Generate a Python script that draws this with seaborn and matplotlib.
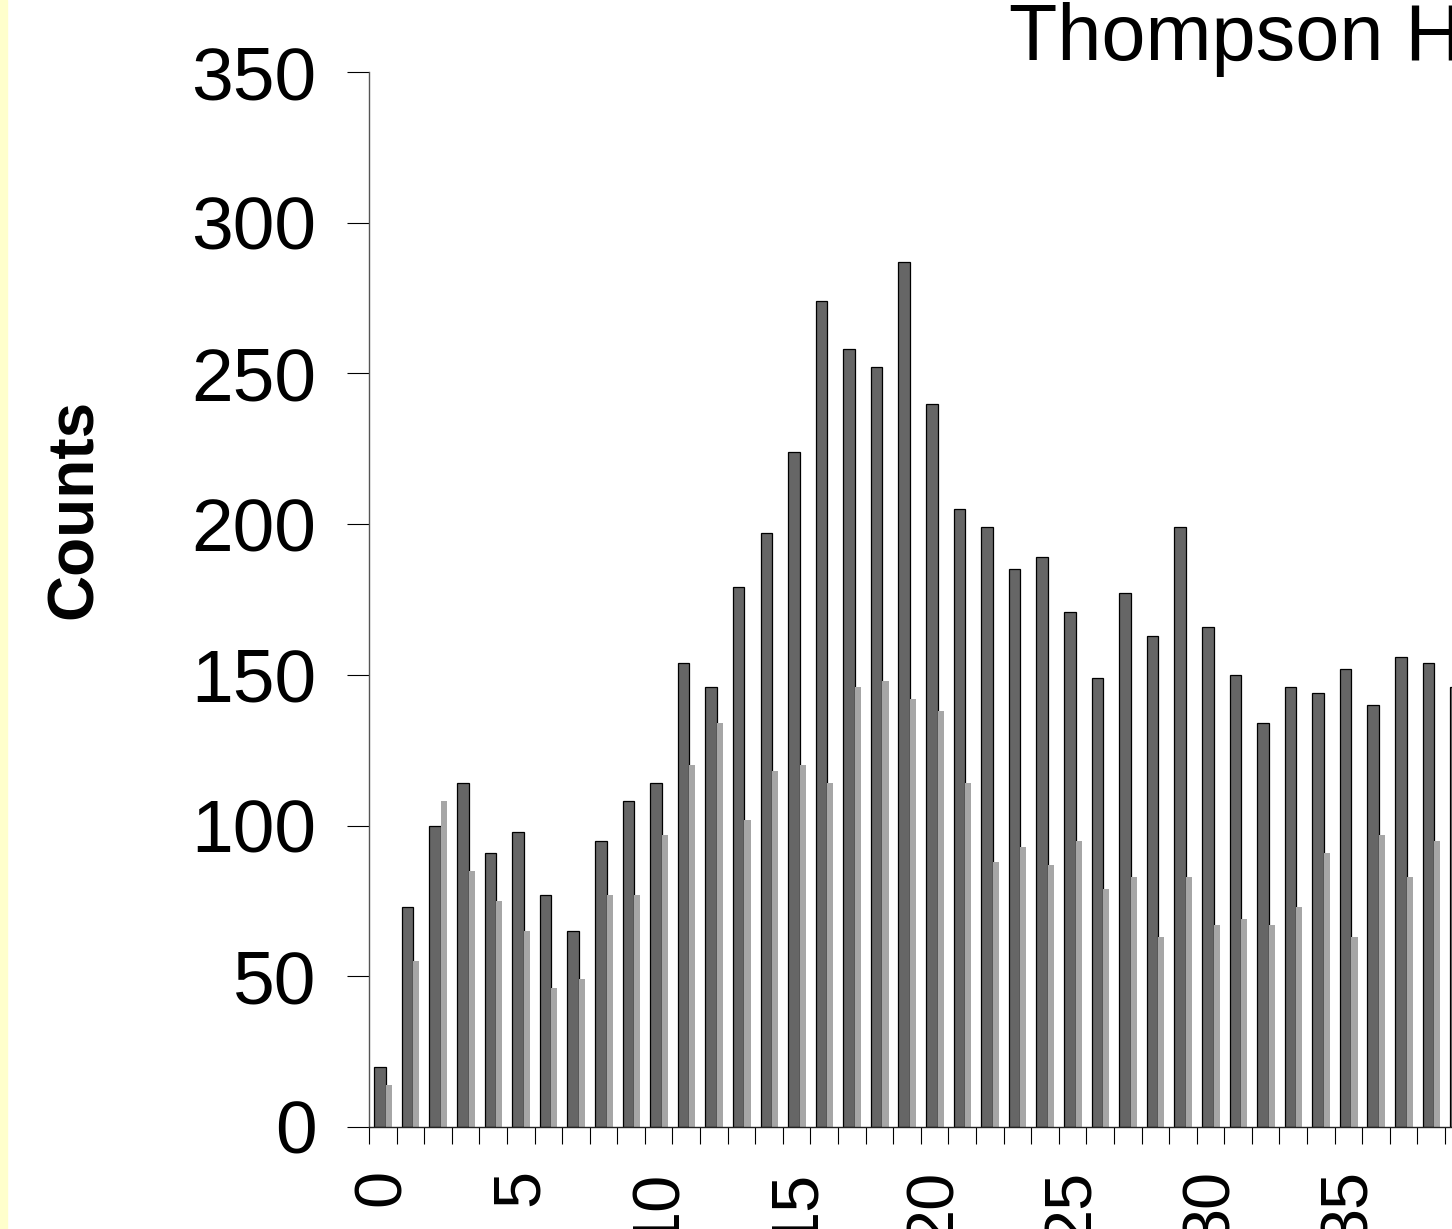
import numpy as np
import pandas as pd
import matplotlib
matplotlib.use('Agg')
import matplotlib.pyplot as plt
import seaborn as sns
from matplotlib.patches import Rectangle
from matplotlib.ticker import FixedLocator

# Values (the right part of the original is cut off)
bins = list(range(40))
dark_counts = [20, 73, 100, 114, 91, 98, 77, 65, 95, 108,
               114, 154, 146, 179, 197, 224, 274, 258, 252, 287,
               240, 205, 199, 185, 189, 171, 149, 177, 163, 199,
               166, 150, 134, 146, 144, 152, 140, 156, 154, 146]
light_counts = [14, 55, 108, 85, 75, 65, 46, 49, 77, 77,
                97, 120, 134, 102, 118, 120, 114, 146, 148, 142,
                138, 114, 88, 93, 87, 95, 79, 83, 63, 83,
                67, 69, 67, 73, 91, 63, 97, 83, 95, np.nan]  # last one is off the picture
x_tick_values = [0, 5, 10, 15, 20, 25, 30, 35]
x_tick_labels = ['0', '5', '10', '15', '20', '25', '30', '35']
y_ticks = [0, 50, 100, 150, 200, 250, 300, 350]
title = 'Thompson H'
y_label = 'Counts'

df = pd.DataFrame({'bin': bins, 'dark': dark_counts, 'light': light_counts})

sns.set_theme(style='white')
plt.rcParams['font.family'] = ['Liberation Sans', 'DejaVu Sans']
plt.rcParams['text.color'] = 'black'
plt.rcParams['xtick.labelcolor'] = 'black'
plt.rcParams['ytick.labelcolor'] = 'black'

W, H = 1452, 1229
fig = plt.figure(figsize=(W / 100, H / 100), dpi=100)
fig.patch.set_facecolor('white')

# axes runs past the right edge of the figure, like the cropped original
step = 27.59
ax = fig.add_axes([369 / W, 102 / H, step * 40 / W, 1055 / H])

sns.barplot(x=df['bin'] - 0.10, y=df['dark'], native_scale=True, width=0.42,
            color='#666666', saturation=1, edgecolor='black', linewidth=0.9,
            errorbar=None, ax=ax)
sns.barplot(x=df['bin'] + 0.22, y=df['light'], native_scale=True, width=0.22,
            color='#A6A6A6', saturation=1, linewidth=0,
            errorbar=None, ax=ax)

ax.set_xlim(-0.5, 39.5)
ax.set_ylim(0, 350)
ax.set_xlabel('')
ax.set_ylabel('')

ax.set_xticks(x_tick_values)
ax.set_xticklabels(x_tick_labels, rotation=90, fontsize=48)
ax.xaxis.set_minor_locator(FixedLocator(np.arange(-0.5, 40, 1)))
ax.tick_params(axis='x', which='major', length=0, pad=30, bottom=True)
ax.tick_params(axis='x', which='minor', length=12.2, width=0.8, color='black',
               direction='out', bottom=True)

ax.set_yticks(y_ticks)
ax.tick_params(axis='y', which='major', length=15.8, width=0.8, color='black',
               direction='out', labelsize=54, pad=22, left=True)

for side in ['top', 'right']:
    ax.spines[side].set_visible(False)
ax.spines['left'].set_color('#555555')
ax.spines['left'].set_linewidth(1.0)
ax.spines['bottom'].set_color('#222222')
ax.spines['bottom'].set_linewidth(1.0)

fig.text(1009 / W, 1 - 60 / H, title, fontsize=57, ha='left', va='baseline')
fig.text(75 / W, 1 - 509 / H, y_label, fontsize=46, fontweight='bold',
         rotation=90, ha='center', va='center')

# thin yellow strip on the left edge
fig.add_artist(Rectangle((0, 0), 7 / W, 1, transform=fig.transFigure,
                         color='#FFFFCC', zorder=0))

fig.savefig('out.png', dpi=100)
